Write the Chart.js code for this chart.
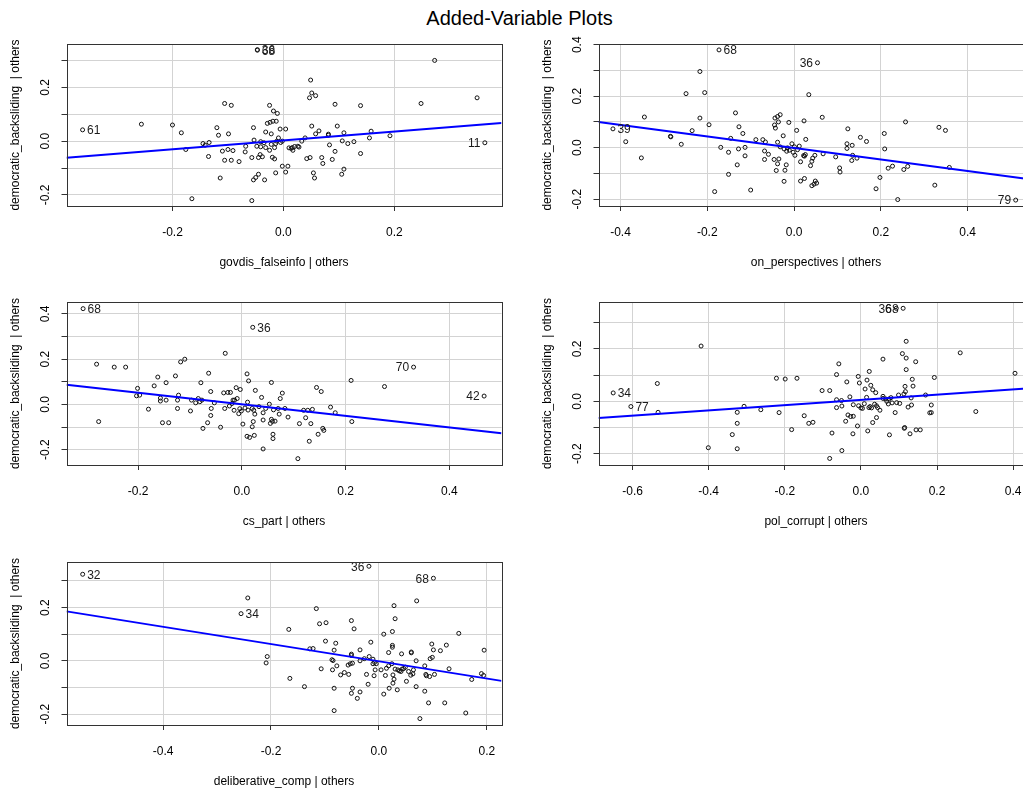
<!DOCTYPE html>
<html>
<head>
<meta charset="utf-8">
<script src="https://cdn.jsdelivr.net/npm/chart.js@4.4.0/dist/chart.umd.min.js"></script>
<style>
html, body { margin: 0; padding: 0; background: #fff; overflow: hidden; }
#wrap { position: relative; width: 1023px; height: 791px; overflow: hidden; }
#wrap canvas { position: absolute; }
#title { position: absolute; left: 0; top: 7px; width: 1039px; text-align: center;
  font: 20px "Liberation Sans", Arial, sans-serif; color: #000; }
</style>
</head>
<body>
<div id="wrap">
  <div id="title">Added-Variable Plots</div>
  <canvas id="p1" width="532" height="244"></canvas>
  <canvas id="p2" width="532" height="244"></canvas>
  <canvas id="p3" width="532" height="245"></canvas>
  <canvas id="p4" width="532" height="245"></canvas>
  <canvas id="p5" width="532" height="245"></canvas>
</div>
<script>
console.log("Script loaded");

const yName = 'democratic_backsliding  | others';
const xNames = ['govdis_falseinfo', 'on_perspectives', 'cs_part', 'pol_corrupt', 'deliberative_comp'];

// govdis_falseinfo | others
const govdisX = [0.049,0.051,0.058,0.047,-0.106,-0.094,-0.025,0.093,0.139,-0.018,-0.011,-0.200,-0.184,-0.120,-0.117,-0.099,
  -0.054,-0.029,-0.024,-0.019,-0.013,-0.032,-0.022,-0.006,0.004,-0.009,0.051,0.058,0.064,0.039,0.081,0.081,0.097,0.109,0.106,
  0.116,0.127,0.158,0.155,0.192,0.139,-0.145,-0.141,-0.134,-0.176,-0.135,-0.110,-0.100,-0.091,-0.106,-0.094,-0.080,-0.068,
  -0.069,-0.053,-0.048,-0.041,-0.041,-0.035,-0.032,-0.025,-0.022,-0.016,-0.014,-0.012,-0.005,-0.002,-0.057,-0.045,-0.042,
  -0.038,-0.020,-0.016,-0.002,0.008,0.004,-0.014,-0.045,-0.050,-0.054,-0.034,-0.114,-0.165,-0.057,0.010,0.014,0.017,0.020,
  0.026,0.028,0.016,0.042,0.048,0.069,0.071,0.088,0.083,0.093,0.054,0.056,0.105,0.109,0.033,-0.256,0.2725,0.248,0.349];
const govdisY = [0.227,0.179,0.169,0.161,0.140,0.133,0.133,0.137,0.132,0.112,0.103,0.060,0.031,0.050,0.022,0.027,
  0.050,0.066,0.070,0.074,0.074,0.034,0.027,0.045,0.045,0.012,0.056,0.027,0.038,0.012,0.026,0.022,0.056,0.031,0.001,
  -0.009,-0.002,0.037,0.012,0.020,-0.046,-0.009,-0.015,-0.005,-0.031,-0.057,-0.037,-0.031,-0.035,-0.071,-0.071,-0.076,-0.019,
  -0.040,0.004,-0.019,-0.002,-0.021,-0.006,-0.024,-0.034,-0.012,-0.024,-0.009,0.000,-0.005,0.000,-0.061,-0.061,-0.050,
  -0.058,-0.060,-0.066,-0.093,-0.093,-0.115,-0.118,-0.123,-0.135,-0.144,-0.144,-0.137,-0.214,-0.221,-0.025,-0.027,-0.034,-0.020,
  -0.019,-0.022,-0.024,-0.065,-0.061,-0.061,-0.083,-0.068,-0.014,-0.038,-0.118,-0.137,-0.123,-0.104,0.000,0.063,0.300,0.140,0.161];
const govdisLabText = ['61', '11', '36', '68'];
const govdisLabX = [-0.362, 0.363, -0.047, -0.047];
const govdisLabY = [0.042, -0.006, 0.340, 0.338];

// on_perspectives | others
const onpersX = [-0.217,-0.249,-0.206,0.034,-0.135,-0.217,-0.196,-0.235,-0.285,-0.260,-0.127,-0.118,-0.146,-0.169,-0.151,
  -0.128,-0.113,-0.113,-0.131,-0.151,-0.183,-0.100,-0.044,-0.038,-0.032,-0.036,-0.012,-0.045,-0.043,-0.025,0.006,0.023,0.065,
  0.027,-0.088,-0.072,-0.066,-0.038,-0.068,-0.059,-0.068,-0.046,-0.035,-0.038,-0.018,-0.041,-0.021,-0.023,-0.032,-0.023,
  -0.017,-0.011,-0.005,0.001,-0.002,0.002,0.012,0.008,-0.015,0.022,0.024,0.026,0.048,0.043,0.041,0.038,0.015,0.067,0.096,
  0.015,0.024,0.049,0.052,0.046,0.041,0.105,0.106,0.124,0.122,0.134,0.122,0.135,0.133,0.145,0.153,0.167,0.208,0.209,0.198,
  0.189,0.239,0.217,0.227,0.257,0.253,0.262,-0.388,-0.345,-0.352,-0.284,0.334,0.349,0.3245,0.358];
const onpersY = [0.296,0.210,0.214,0.206,0.135,0.115,0.089,0.066,0.044,0.013,0.081,0.055,0.036,0.001,-0.018,
  -0.005,0.001,-0.032,-0.067,-0.104,-0.171,-0.165,0.115,0.121,0.128,0.100,0.098,0.088,0.076,0.046,0.067,0.104,0.118,
  0.032,0.031,0.031,0.022,0.021,-0.013,-0.026,-0.046,-0.046,-0.044,-0.063,-0.067,-0.089,-0.088,-0.131,0.003,-0.005,
  -0.014,-0.010,0.015,0.003,-0.018,-0.030,0.006,-0.008,-0.001,-0.031,-0.033,-0.027,-0.030,-0.041,-0.053,-0.070,-0.055,-0.024,-0.036,
  -0.130,-0.120,-0.130,-0.138,-0.142,-0.148,-0.079,-0.095,0.073,0.015,0.009,-0.003,-0.030,-0.050,-0.041,0.040,0.024,0.055,-0.005,-0.116,
  -0.160,-0.202,-0.080,-0.072,0.100,-0.085,-0.073,0.023,0.119,-0.040,0.042,0.079,0.067,-0.146,-0.077];
const onpersLabText = ['68', '36', '39', '79'];
const onpersLabX = [-0.173, 0.054, -0.4175, 0.511];
const onpersLabY = [0.380, 0.330, 0.073, -0.204];

// cs_part | others
const cspartX = [-0.032,-0.118,-0.110,-0.246,-0.224,-0.162,-0.146,-0.169,-0.128,-0.064,-0.079,-0.201,-0.203,-0.197,-0.157,
  -0.157,-0.146,-0.122,-0.124,-0.124,-0.180,-0.153,-0.141,-0.099,-0.097,-0.089,-0.084,-0.081,-0.077,-0.060,-0.059,-0.053,
  -0.060,-0.066,-0.075,-0.041,-0.035,-0.027,-0.022,-0.011,-0.003,-0.009,-0.033,-0.024,-0.017,-0.014,-0.019,-0.015,-0.004,
  -0.001,-0.006,0.002,0.010,0.013,0.026,0.038,0.057,0.078,0.074,0.011,0.006,0.012,0.020,0.023,0.025,0.033,0.041,0.046,
  0.053,0.061,0.070,0.083,0.072,0.041,0.022,0.020,0.057,0.059,0.055,0.064,0.010,0.015,0.024,0.060,0.060,0.041,0.089,0.108,
  0.111,0.123,0.119,0.127,0.136,0.133,0.130,0.147,0.156,0.158,0.144,0.153,0.171,0.180,-0.280,-0.276,0.2106,0.275,0.212];
const cspartY = [0.226,0.188,0.200,0.165,0.165,0.121,0.096,0.082,0.126,0.138,0.096,0.071,0.038,0.041,0.028,
  0.015,0.019,0.041,0.019,-0.018,-0.021,-0.081,-0.081,-0.029,0.019,0.007,0.026,0.012,0.019,0.057,-0.018,0.007,
  -0.049,-0.081,-0.106,-0.101,0.051,0.053,0.053,0.074,0.066,0.026,-0.018,-0.007,0.019,0.019,0.004,-0.026,-0.019,
  -0.029,-0.041,-0.087,0.135,0.104,0.062,0.031,0.097,0.050,0.026,0.010,-0.016,-0.025,-0.018,-0.026,-0.043,-0.010,-0.037,-0.018,
  0.001,-0.024,-0.018,-0.018,-0.043,-0.069,-0.076,-0.099,-0.066,-0.075,-0.084,-0.074,-0.141,-0.146,-0.137,-0.132,-0.151,-0.197,-0.056,-0.240,
  -0.085,-0.059,-0.026,-0.026,-0.022,-0.085,-0.163,-0.132,-0.106,-0.115,0.075,0.057,-0.012,-0.037,0.178,-0.076,0.106,0.079,-0.076];
const cspartLabText = ['68', '36', '70', '42'];
const cspartLabX = [-0.306, 0.021, 0.331, 0.467];
const cspartLabY = [0.4235, 0.341, 0.165, 0.037];

// pol_corrupt | others
const polcorX = [0.119,0.109,0.119,0.058,0.144,0.261,0.119,-0.058,-0.064,0.022,0.405,-0.007,-0.004,0.016,-0.037,0.026,
  0.031,0.011,0.039,0.135,0.137,0.116,0.117,0.113,0.193,-0.102,-0.082,-0.029,-0.064,-0.051,-0.064,-0.050,-0.149,-0.137,
  -0.126,-0.076,-0.050,-0.082,-0.034,-0.027,-0.020,-0.040,-0.009,-0.021,-0.020,-0.006,0.000,0.004,0.009,0.015,0.021,0.024,
  0.028,0.036,0.041,0.044,0.050,0.041,0.031,0.018,0.058,0.058,0.065,0.068,0.072,0.074,0.079,0.082,0.090,0.094,0.099,0.102,
  0.132,0.133,0.124,0.170,0.075,0.114,0.115,0.129,0.145,0.156,0.185,0.185,0.181,0.302,-0.535,-0.533,-0.420,-0.401,-0.338,
  -0.325,-0.325,-0.325,-0.307,-0.263,-0.222,-0.199,-0.168,-0.215,-0.182];
const polcorY = [0.229,0.182,0.165,0.161,0.151,0.185,0.121,0.143,0.102,0.114,0.107,0.095,0.070,0.081,0.074,0.061,
  0.044,0.047,0.033,0.084,0.058,0.057,0.037,0.028,0.091,0.041,0.041,0.017,0.006,0.003,-0.024,-0.018,-0.055,-0.084,
  -0.080,-0.121,-0.188,-0.218,-0.052,-0.058,-0.057,-0.076,-0.094,-0.124,-0.013,-0.017,-0.025,-0.027,-0.009,0.015,-0.024,-0.020,
  -0.025,-0.011,-0.017,-0.024,-0.034,-0.062,-0.081,-0.113,0.019,0.011,0.009,0.000,-0.010,0.009,0.014,-0.006,-0.043,-0.005,0.024,-0.008,
  0.013,-0.014,-0.022,0.024,-0.128,-0.103,-0.100,-0.124,-0.109,-0.109,-0.014,-0.043,-0.044,-0.039,0.068,-0.042,0.211,-0.177,-0.127,
  -0.042,-0.084,-0.181,-0.019,-0.032,0.088,0.085,0.088,-0.043,-0.108];
const polcorLabText = ['36', '68', '34', '77'];
const polcorLabX = [0.093, 0.111, -0.651, -0.6045];
const polcorLabY = [0.355, 0.355, 0.032, -0.020];

// deliberative_comp | others
const delibX = [0.070,0.028,0.030,0.025,0.009,-0.116,-0.110,-0.098,-0.051,-0.046,-0.167,-0.015,-0.035,-0.051,-0.051,-0.099,
  -0.080,-0.083,-0.128,-0.122,-0.087,-0.085,-0.207,-0.209,-0.107,-0.086,-0.078,-0.071,-0.064,-0.056,-0.057,-0.053,-0.049,
  -0.035,-0.027,-0.165,-0.138,-0.083,-0.083,-0.049,-0.051,-0.035,-0.040,-0.020,-0.023,-0.018,-0.011,-0.008,-0.005,-0.011,
  -0.007,-0.009,0.004,0.014,0.012,0.018,0.018,0.024,0.026,0.028,0.026,0.019,0.034,0.009,0.025,0.025,0.042,0.060,0.060,0.030,
  0.035,0.038,0.043,0.046,0.041,0.049,0.055,0.059,0.063,0.064,0.051,0.069,0.069,0.085,0.087,0.088,0.094,0.103,0.085,0.092,
  0.076,0.095,0.099,0.101,0.098,0.114,0.125,0.130,0.122,0.148,0.172,0.161,0.190,0.194,0.195,-0.243];
const delibY = [0.225,0.207,0.158,0.110,0.100,0.196,0.139,0.143,0.151,0.120,0.118,0.070,0.041,0.025,0.020,0.074,
  0.066,0.040,0.045,0.046,0.004,0.001,0.016,-0.008,-0.030,-0.034,-0.019,-0.053,-0.044,-0.051,-0.016,-0.011,-0.009,
  0.000,0.008,-0.066,-0.097,-0.103,-0.187,-0.103,-0.122,-0.117,-0.141,-0.088,-0.051,0.016,0.006,-0.006,-0.011,-0.011,
  -0.034,-0.056,-0.034,-0.028,-0.055,0.031,-0.019,-0.011,-0.053,-0.069,-0.084,-0.103,-0.109,-0.125,0.058,0.051,0.026,0.033,0.030,-0.031,
  -0.034,-0.038,-0.031,-0.029,-0.040,-0.024,-0.040,-0.054,-0.049,-0.034,-0.077,-0.097,0.000,-0.019,-0.051,-0.056,-0.059,-0.051,-0.114,-0.158,
  -0.217,0.008,0.013,0.041,0.063,0.038,0.059,-0.030,-0.158,0.103,-0.070,-0.196,-0.048,-0.055,0.040,0.236];
const delibLabText = ['32', '36', '68', '34'];
const delibLabX = [-0.549, -0.0185, 0.101, -0.2555];
const delibLabY = [0.325, 0.355, 0.310, 0.177];

// axis limits, ticks and fitted line ends
const xLimits = [[-0.391, 0.393], [-0.4508, 0.552], [-0.338, 0.5005], [-0.6896, 0.4536], [-0.579, 0.2272]];
const yLimits = [[-0.241, 0.361], [-0.227, 0.403], [-0.268, 0.453], [-0.243, 0.379], [-0.241, 0.371]];
const xTicks = [[-0.2, 0, 0.2], [-0.4, -0.2, 0, 0.2, 0.4], [-0.2, 0, 0.2, 0.4],
  [-0.6, -0.4, -0.2, 0, 0.2, 0.4], [-0.4, -0.2, 0, 0.2]];
const yTicks = [[-0.2, -0.1, 0, 0.1, 0.2, 0.3], [-0.2, -0.1, 0, 0.1, 0.2, 0.3, 0.4], [-0.2, -0.1, 0, 0.1, 0.2, 0.3, 0.4],
  [-0.2, -0.1, 0, 0.1, 0.2, 0.3], [-0.2, -0.1, 0, 0.1, 0.2, 0.3]];
const yTickLabels = [[-0.2, 0, 0.2], [-0.2, 0, 0.2, 0.4], [-0.2, 0, 0.2, 0.4], [-0.2, 0, 0.2], [-0.2, 0, 0.2]];
const fitEnds = [[-0.062, 0.067], [0.100, -0.1246], [0.087, -0.128], [-0.064, 0.0508], [0.1856, -0.0753]];

const panelX = [govdisX, onpersX, cspartX, polcorX, delibX];
const panelY = [govdisY, onpersY, cspartY, polcorY, delibY];
const panelLabText = [govdisLabText, onpersLabText, cspartLabText, polcorLabText, delibLabText];
const panelLabX = [govdisLabX, onpersLabX, cspartLabX, polcorLabX, delibLabX];
const panelLabY = [govdisLabY, onpersLabY, cspartLabY, polcorLabY, delibLabY];

// panel placement: canvas left/top and plot-box height
const padTop = 14;
const canvasLeft = [0, 532, 0, 532, 0];
const canvasTop = [44 - padTop, 44 - padTop, 302 - padTop, 302 - padTop, 562 - padTop];
const boxHeight = [162, 162, 163, 163, 163];

Chart.defaults.font.family = '"Liberation Sans", Arial, sans-serif';
Chart.defaults.font.size = 12;
Chart.defaults.color = '#000';

const fmt = v => (Math.abs(v) < 1e-9 ? 0 : v).toFixed(1);

// R-style box around the plot and the point id labels
const boxAndLabels = {
    id: 'boxAndLabels',
    afterDatasetsDraw(chart, args, opts) {
        const { ctx, chartArea: a, scales: { x, y } } = chart;
        ctx.save();
        ctx.font = '12px "Liberation Sans", Arial, sans-serif';
        ctx.fillStyle = '#1a1a1a';
        ctx.textBaseline = 'middle';
        const mid = (x.min + x.max) / 2;
        opts.text.forEach((t, i) => {
            const px = x.getPixelForValue(opts.xs[i]);
            const py = y.getPixelForValue(opts.ys[i]);
            if (opts.xs[i] > mid) {
                ctx.textAlign = 'right';
                ctx.fillText(t, px - 4.5, py + 1);
            } else {
                ctx.textAlign = 'left';
                ctx.fillText(t, px + 4.5, py + 1);
            }
        });
        ctx.strokeStyle = '#333';
        ctx.lineWidth = 1;
        ctx.strokeRect(Math.round(a.left) + 0.5, Math.round(a.top) + 0.5,
            Math.round(a.right - a.left), Math.round(a.bottom - a.top));
        ctx.restore();
    }
};

for (let p = 0; p < 5; p++) {
    const cv = document.getElementById('p' + (p + 1));
    cv.style.left = canvasLeft[p] + 'px';
    cv.style.top = canvasTop[p] + 'px';
    cv.height = padTop + boxHeight[p] + 68;

    const pts = panelX[p].map((v, i) => ({ x: v, y: panelY[p][i] }))
        .concat(panelLabX[p].map((v, i) => ({ x: v, y: panelLabY[p][i] })));

    new Chart(cv.getContext('2d'), {
        type: 'scatter',
        data: {
            datasets: [{
                data: [{ x: xLimits[p][0], y: fitEnds[p][0] }, { x: xLimits[p][1], y: fitEnds[p][1] }],
                showLine: true,
                borderColor: '#0000ff',
                borderWidth: 2,
                pointRadius: 0,
                order: 0
            }, {
                data: pts,
                pointRadius: 2,
                pointBorderWidth: 1,
                pointBorderColor: '#111',
                pointBackgroundColor: 'rgba(0,0,0,0)',
                order: 1
            }]
        },
        options: {
            responsive: false,
            animation: false,
            devicePixelRatio: 1,
            events: [],
            layout: { padding: { left: 0, top: padTop, right: 30.5, bottom: 0 } },
            plugins: {
                legend: { display: false },
                tooltip: { enabled: false },
                boxAndLabels: { text: panelLabText[p], xs: panelLabX[p], ys: panelLabY[p] }
            },
            scales: {
                x: {
                    type: 'linear',
                    min: xLimits[p][0],
                    max: xLimits[p][1],
                    afterBuildTicks: s => { s.ticks = xTicks[p].map(v => ({ value: v })); },
                    afterFit: s => { s.height = 68; s.paddingLeft = 0; s.paddingRight = 0; },
                    border: { display: false },
                    grid: { color: '#d3d3d3', tickColor: '#333', tickLength: 5 },
                    ticks: { padding: 14, autoSkip: false, maxRotation: 0, callback: v => fmt(v) },
                    title: { display: true, text: xNames[p] + ' | others', padding: { top: 0, bottom: 4 } }
                },
                y: {
                    type: 'linear',
                    min: yLimits[p][0],
                    max: yLimits[p][1],
                    afterBuildTicks: s => { s.ticks = yTicks[p].map(v => ({ value: v })); },
                    afterFit: s => { s.width = 66.5; s.paddingTop = 0; s.paddingBottom = 0; },
                    border: { display: false },
                    grid: { color: '#d3d3d3', tickColor: '#333', tickLength: 5 },
                    ticks: {
                        padding: 5, autoSkip: false, minRotation: 90, maxRotation: 90, crossAlign: 'center',
                        callback: v => yTickLabels[p].includes(v) ? fmt(v) : ''
                    },
                    title: { display: true, text: yName, padding: { top: 8.5, bottom: 0 } }
                }
            }
        },
        plugins: [boxAndLabels]
    });
}
</script>
</body>
</html>
